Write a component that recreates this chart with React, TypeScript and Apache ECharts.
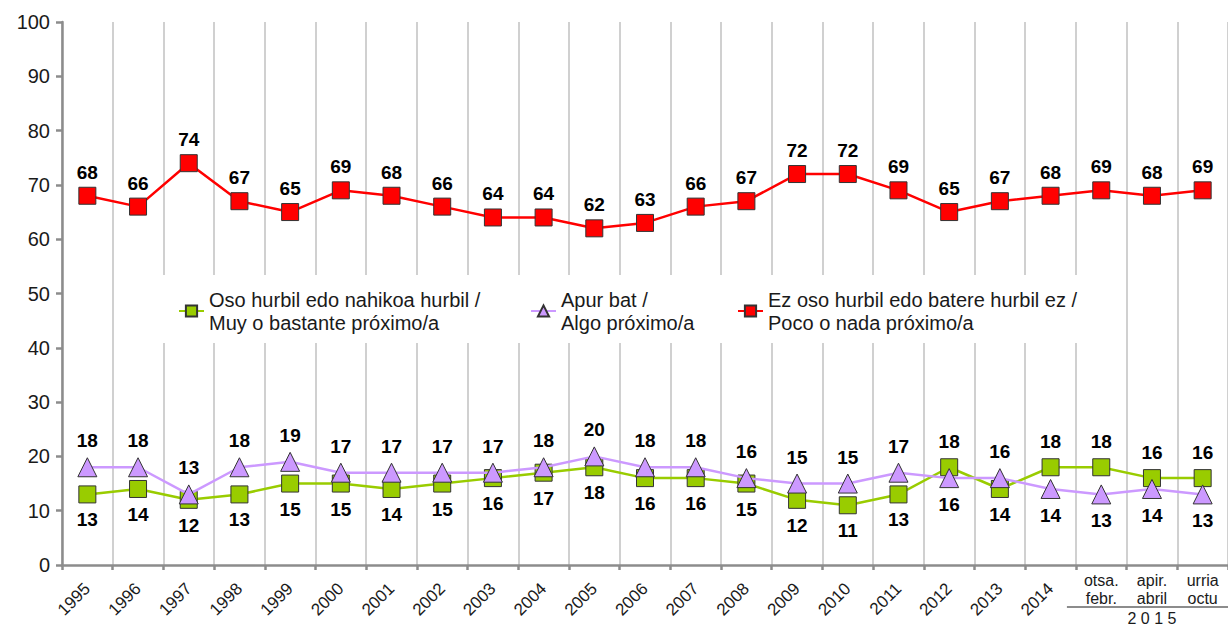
import React, { useEffect, useRef } from "react";
import * as echarts from "echarts";

const categories = [
  "1995", "1996", "1997", "1998", "1999", "2000", "2001", "2002", "2003", "2004",
  "2005", "2006", "2007", "2008", "2009", "2010", "2011", "2012", "2013", "2014",
  "otsa.\nfebr.", "apir.\nabril", "urria\noctu",
];
const yearCount = 20;
const yearLabel2015 = "2 0 1 5";

const seriesNames = [
  "Oso hurbil edo nahikoa hurbil /\nMuy o bastante próximo/a",
  "Apur bat /\nAlgo próximo/a",
  "Ez oso hurbil edo batere hurbil ez /\nPoco o nada próximo/a",
];

const greenValues = [13, 14, 12, 13, 15, 15, 14, 15, 16, 17, 18, 16, 16, 15, 12, 11, 13, 18, 14, 18, 18, 16, 16];
const purpleValues = [18, 18, 13, 18, 19, 17, 17, 17, 17, 18, 20, 18, 18, 16, 15, 15, 17, 16, 16, 14, 13, 14, 13];
const redValues = [68, 66, 74, 67, 65, 69, 68, 66, 64, 64, 62, 63, 66, 67, 72, 72, 69, 65, 67, 68, 69, 68, 69];

const FONT = "'Liberation Sans', Arial, sans-serif";

export default function App() {
  const ref = useRef<HTMLDivElement>(null);

  useEffect(() => {
    document.body.style.margin = "0";
    if (!ref.current) return;
    const chart = echarts.init(ref.current, undefined, { renderer: "svg" });

    const labelBase = {
      show: true,
      fontFamily: FONT,
      fontSize: 19,
      fontWeight: "bold" as const,
      color: "#000",
    };

    const greenData = greenValues.map((v, i) => ({
      value: v,
      label: { position: v > purpleValues[i] ? "top" : "bottom" },
    }));
    const purpleData = purpleValues.map((v, i) => ({
      value: v,
      label: { position: v >= greenValues[i] ? "top" : "bottom" },
    }));

    const legendCommon = {
      top: 288,
      itemWidth: 25,
      itemHeight: 14,
      selectedMode: false,
      padding: 0,
      textStyle: { fontFamily: FONT, fontSize: 20, lineHeight: 23, color: "#1a1a1a" },
    };

    const option: any = {
      animation: false,
      backgroundColor: "#fff",
      textStyle: { fontFamily: FONT },
      grid: { left: 62, right: -11, top: 22, bottom: 61, containLabel: false },
      legend: [
        { ...legendCommon, left: 178, data: [seriesNames[0]] },
        { ...legendCommon, left: 530, data: [seriesNames[1]] },
        { ...legendCommon, left: 737, data: [seriesNames[2]] },
      ],
      xAxis: [
        {
          type: "category",
          data: categories,
          position: "bottom",
          boundaryGap: true,
          axisLine: { show: true, lineStyle: { color: "#8c8c8c", width: 2.5 } },
          axisTick: { show: true, length: 5, lineStyle: { color: "#8c8c8c", width: 2.5 } },
          splitLine: { show: true, lineStyle: { color: "#c0c0c0", width: 1.5 } },
          axisLabel: {
            interval: 0,
            rotate: 45,
            margin: 21,
            fontFamily: FONT,
            fontSize: 17,
            color: "#1a1a1a",
            formatter: (v: string, i: number) => (i < yearCount ? v : ""),
          },
        },
        {
          type: "category",
          data: categories,
          position: "bottom",
          boundaryGap: true,
          axisLine: { show: false },
          axisTick: { show: false },
          splitLine: { show: false },
          axisLabel: {
            interval: 0,
            rotate: 0,
            margin: 6,
            fontFamily: FONT,
            fontSize: 16,
            lineHeight: 18,
            color: "#1a1a1a",
            formatter: (v: string, i: number) => (i >= yearCount ? v : ""),
          },
        },
      ],
      yAxis: {
        type: "value",
        min: 0,
        max: 100,
        interval: 10,
        axisLine: { show: true, lineStyle: { color: "#8c8c8c", width: 2.5 } },
        axisTick: { show: true, length: 6, lineStyle: { color: "#8c8c8c", width: 2.5 } },
        splitLine: { show: false },
        axisLabel: { margin: 12, fontFamily: FONT, fontSize: 20, color: "#1a1a1a" },
      },
      series: [
        {
          name: seriesNames[0],
          type: "line",
          data: greenData,
          symbol: "rect",
          symbolSize: 17,
          z: 3,
          lineStyle: { color: "#99cc00", width: 2.5 },
          itemStyle: { color: "#99cc00", borderColor: "#333", borderWidth: 1 },
          label: { ...labelBase, distance: 7 },
        },
        {
          name: seriesNames[1],
          type: "line",
          data: purpleData,
          symbol: "triangle",
          symbolSize: 19,
          z: 4,
          lineStyle: { color: "#cc99ff", width: 2.5 },
          itemStyle: { color: "#cc99ff", borderColor: "#333", borderWidth: 1 },
          label: { ...labelBase, distance: 7 },
        },
        {
          name: seriesNames[2],
          type: "line",
          data: redValues,
          symbol: "rect",
          symbolSize: 17,
          z: 5,
          lineStyle: { color: "#ff0000", width: 2.5 },
          itemStyle: { color: "#ff0000", borderColor: "#333", borderWidth: 1 },
          label: { ...labelBase, position: "top", distance: 5 },
        },
      ],
    };

    chart.setOption(option);

    const xFirst = chart.convertToPixel({ xAxisIndex: 0 }, categories[yearCount]) as number;
    const xSecond = chart.convertToPixel({ xAxisIndex: 0 }, categories[yearCount + 1]) as number;
    const step = xSecond - xFirst;
    const yZero = chart.convertToPixel({ yAxisIndex: 0 }, 0) as number;

    chart.setOption({
      graphic: [
        {
          type: "rect",
          z: 1,
          silent: true,
          shape: { x: 158, y: 275, width: 968, height: 68 },
          style: { fill: "#ffffff" },
        },
        {
          type: "line",
          silent: true,
          shape: { x1: xFirst - step / 2 - 9, y1: yZero + 42, x2: 1228, y2: yZero + 42 },
          style: { stroke: "#1a1a1a", lineWidth: 1.2 },
        },
        {
          type: "text",
          silent: true,
          x: xSecond,
          y: yZero + 53,
          style: {
            text: yearLabel2015,
            fontFamily: FONT,
            fontSize: 16,
            fill: "#1a1a1a",
            align: "center",
            verticalAlign: "middle",
          },
        },
      ],
    });

    return () => chart.dispose();
  }, []);

  return (
    <div
      ref={ref}
      style={{ position: "absolute", left: 0, top: 0, width: 1228, height: 626 }}
    />
  );
}
